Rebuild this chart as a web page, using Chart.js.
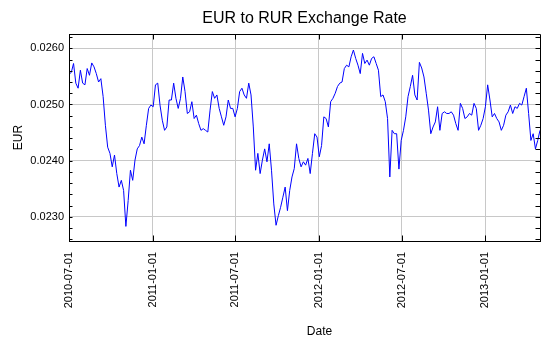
<!DOCTYPE html>
<html>
<head>
<meta charset="utf-8">
<title>EUR to RUR Exchange Rate</title>
<script src="https://cdn.jsdelivr.net/npm/chart.js@4"></script>
<style>
  html, body { margin: 0; padding: 0; background: #fff; }
</style>
</head>
<body>
<canvas id="rateChart" width="550" height="350"></canvas>
<script>
// rate samples, one every stepDays starting at startDate
const startDate = "2010-07-01";
const endDate = "2013-05-01";
const stepDays = 5;
const rateValues = [
    0.02554, 0.02557, 0.02573, 0.02538, 0.02529, 0.02561, 0.02538, 0.02535, 0.02564, 0.02552,
    0.02574, 0.02567, 0.02555, 0.02540, 0.02546, 0.02514, 0.02463, 0.02424, 0.02413, 0.02389,
    0.02410, 0.02377, 0.02353, 0.02365, 0.02347, 0.02283, 0.02329, 0.02383, 0.02365, 0.02401,
    0.02421, 0.02427, 0.02442, 0.02430, 0.02463, 0.02493, 0.02499, 0.02496, 0.02535, 0.02538,
    0.02499, 0.02472, 0.02454, 0.02460, 0.02508, 0.02508, 0.02538, 0.02511, 0.02493, 0.02511,
    0.02549, 0.02523, 0.02484, 0.02487, 0.02505, 0.02475, 0.02481, 0.02466, 0.02454, 0.02457,
    0.02454, 0.02451, 0.02490, 0.02523, 0.02511, 0.02517, 0.02493, 0.02478, 0.02463, 0.02478,
    0.02508, 0.02493, 0.02493, 0.02478, 0.02493, 0.02523, 0.02529, 0.02517, 0.02511, 0.02538,
    0.02517, 0.02460, 0.02383, 0.02413, 0.02377, 0.02401, 0.02421, 0.02398, 0.02430, 0.02383,
    0.02323, 0.02285, 0.02302, 0.02317, 0.02335, 0.02353, 0.02311, 0.02347, 0.02371, 0.02386,
    0.02430, 0.02404, 0.02389, 0.02398, 0.02392, 0.02404, 0.02377, 0.02413, 0.02448, 0.02442,
    0.02407, 0.02427, 0.02478, 0.02475, 0.02460, 0.02505, 0.02511, 0.02520, 0.02532, 0.02538,
    0.02540, 0.02564, 0.02570, 0.02567, 0.02585, 0.02597, 0.02582, 0.02570, 0.02555, 0.02591,
    0.02573, 0.02579, 0.02570, 0.02582, 0.02585, 0.02573, 0.02561, 0.02514, 0.02517, 0.02505,
    0.02475, 0.02371, 0.02454, 0.02448, 0.02448, 0.02385, 0.02436, 0.02454, 0.02478, 0.02514,
    0.02532, 0.02552, 0.02517, 0.02508, 0.02575, 0.02565, 0.02549, 0.02520, 0.02490, 0.02448,
    0.02460, 0.02469, 0.02496, 0.02454, 0.02484, 0.02487, 0.02484, 0.02484, 0.02487, 0.02481,
    0.02466, 0.02454, 0.02502, 0.02493, 0.02475, 0.02478, 0.02484, 0.02481, 0.02502, 0.02493,
    0.02454, 0.02463, 0.02475, 0.02496, 0.02535, 0.02508, 0.02478, 0.02484, 0.02475, 0.02469,
    0.02454, 0.02463, 0.02481, 0.02487, 0.02499, 0.02484, 0.02496, 0.02493, 0.02502, 0.02499,
    0.02514, 0.02529, 0.02484, 0.02436, 0.02448, 0.02421, 0.02436, 0.02454
];
const dateTicks = ["2010-07-01", "2011-01-01", "2011-07-01", "2012-01-01", "2012-07-01", "2013-01-01"];
const rateTicks = [0.0230, 0.0240, 0.0250, 0.0260];
const rateMin = 0.02257;
const rateMax = 0.026255;

const DAY = 86400000;
const t0 = Date.parse(startDate);
const points = rateValues.map((v, i) => ({ x: t0 + i * stepDays * DAY, y: v }));

Chart.defaults.font.family = '"Liberation Sans", Arial, sans-serif';
Chart.defaults.color = "#000";

// box round the plot, inward tick marks and the x axis caption
const frameTicks = {
    id: "frameTicks",
    afterDraw(chart) {
        const { ctx, chartArea: a, scales: { x, y } } = chart;
        const px = v => Math.round(v) + 0.5;
        ctx.save();
        ctx.strokeStyle = "#000";
        ctx.lineWidth = 1;
        ctx.beginPath();
        ctx.rect(px(a.left), px(a.top), Math.round(a.right) - Math.round(a.left), Math.round(a.bottom) - Math.round(a.top));
        for (let v = 0.0226; v <= rateMax + 1e-9; v += 0.0002) {
            const yy = px(y.getPixelForValue(v));
            ctx.moveTo(px(a.left), yy);
            ctx.lineTo(px(a.left) + 3, yy);
            ctx.moveTo(px(a.right), yy);
            ctx.lineTo(px(a.right) - 5, yy);
        }
        dateTicks.forEach(d => {
            const xx = px(x.getPixelForValue(Date.parse(d)));
            ctx.moveTo(xx, px(a.top));
            ctx.lineTo(xx, px(a.top) + 5);
            ctx.moveTo(xx, px(a.bottom));
            ctx.lineTo(xx, px(a.bottom) - 6);
        });
        ctx.stroke();

        ctx.fillStyle = "#000";
        ctx.font = '12px "Liberation Sans", Arial, sans-serif';
        ctx.textAlign = "center";
        ctx.textBaseline = "middle";
        ctx.fillText("Date", (a.left + a.right) / 2 + 15, chart.height - 18);
        ctx.restore();
    }
};

new Chart(document.getElementById("rateChart"), {
    type: "line",
    data: {
        datasets: [{
            label: "EUR",
            data: points,
            borderColor: "#0000ff",
            borderWidth: 1,
            pointRadius: 0,
            tension: 0,
            fill: false
        }]
    },
    options: {
        responsive: false,
        animation: false,
        layout: { padding: { right: 10 } },
        plugins: {
            legend: { display: false },
            tooltip: { enabled: false },
            title: {
                display: true,
                text: "EUR to RUR Exchange Rate",
                fullSize: false,
                font: { size: 16, weight: "normal" },
                color: "#000",
                padding: { top: 9.4, bottom: 5.4 }
            }
        },
        scales: {
            x: {
                type: "linear",
                min: t0,
                max: Date.parse(endDate),
                afterBuildTicks: scale => {
                    scale.ticks = dateTicks.map(d => ({ value: Date.parse(d) }));
                },
                afterFit: scale => { scale.height = 109; },
                ticks: {
                    autoSkip: false,
                    minRotation: 90,
                    maxRotation: 90,
                    padding: 11,
                    font: { size: 11 },
                    callback: v => new Date(v).toISOString().slice(0, 10)
                },
                grid: { color: "#c8c8c8", drawTicks: false },
                border: { color: "#000" }
            },
            y: {
                min: rateMin,
                max: rateMax,
                afterBuildTicks: scale => {
                    scale.ticks = rateTicks.map(v => ({ value: v }));
                },
                afterFit: scale => { scale.width = 69; },
                ticks: {
                    padding: 5,
                    font: { size: 11 },
                    callback: v => v.toFixed(4)
                },
                grid: { color: "#c8c8c8", drawTicks: false },
                border: { color: "#000" },
                title: {
                    display: true,
                    text: "EUR",
                    font: { size: 12 },
                    padding: { top: 11 }
                }
            }
        }
    },
    plugins: [frameTicks]
});
</script>
</body>
</html>
